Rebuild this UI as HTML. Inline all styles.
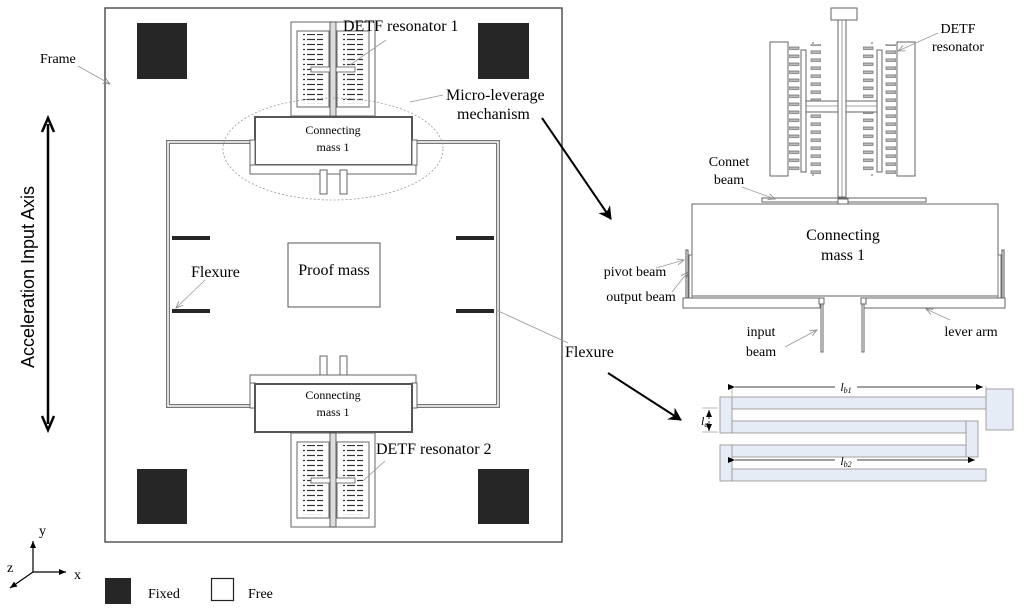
<!DOCTYPE html>
<html><head><meta charset="utf-8"><style>
html,body{margin:0;padding:0;background:#fff;}
svg{display:block;font-family:"Liberation Serif",serif;}
</style></head><body>
<svg width="1024" height="616" viewBox="0 0 1024 616" xmlns="http://www.w3.org/2000/svg">
<defs>
<pattern id="comb" width="8" height="5" patternUnits="userSpaceOnUse">
<rect width="8" height="5" fill="#fff"/><line x1="0" y1="2.5" x2="6" y2="2.5" stroke="#333" stroke-width="1.2"/>
</pattern>
<pattern id="combR" width="8" height="5" patternUnits="userSpaceOnUse">
<rect width="8" height="5" fill="#fff"/><line x1="2" y1="2.5" x2="8" y2="2.5" stroke="#333" stroke-width="1.2"/>
</pattern>
<pattern id="combB" x="0" y="0" width="1" height="0.0615385" patternUnits="objectBoundingBox">
<rect width="13" height="8" fill="#fff"/><rect x="0" y="3" width="10" height="2.5" fill="#bbb" stroke="#555" stroke-width="0.6"/>
</pattern>
<pattern id="combBR" x="0" y="0.03" width="1" height="0.0615385" patternUnits="objectBoundingBox">
<rect width="13" height="8" fill="#fff"/><rect x="3" y="3" width="10" height="2.5" fill="#bbb" stroke="#555" stroke-width="0.6"/>
</pattern>
<g id="detf">
<rect x="0" y="0" width="84" height="94" fill="#fff" stroke="#666" stroke-width="1"/>
<rect x="6" y="9" width="32" height="76" fill="#fff" stroke="#666"/>
<rect x="46" y="9" width="32" height="76" fill="#fff" stroke="#666"/>
<rect x="12" y="12" width="10" height="70" fill="url(#comb)"/>
<rect x="22" y="12" width="10" height="70" fill="url(#combR)"/>
<rect x="52" y="12" width="10" height="70" fill="url(#comb)"/>
<rect x="62" y="12" width="10" height="70" fill="url(#combR)"/>
<rect x="20" y="45" width="44" height="5" fill="#fff" stroke="#555" stroke-width="0.8"/>
<rect x="39" y="0" width="6" height="94" fill="#ddd" stroke="#444" stroke-width="0.8"/>
</g>
<marker id="ah2" markerWidth="14" markerHeight="14" refX="12" refY="7" orient="auto" markerUnits="userSpaceOnUse"><path d="M0,0 L13,7 L0,14 L4,7 z" fill="#000"/></marker>
<marker id="gh" markerWidth="8" markerHeight="8" refX="7" refY="4" orient="auto" markerUnits="userSpaceOnUse"><path d="M0,1 L7,4 L0,7" fill="none" stroke="#888" stroke-width="0.8"/></marker>
<marker id="dh" markerWidth="8" markerHeight="8" refX="7" refY="4" orient="auto" markerUnits="userSpaceOnUse"><path d="M0,1 L7,4 L0,7 z" fill="#000"/></marker>
</defs>

<rect x="105" y="8" width="457" height="534" fill="#fff" stroke="#555" stroke-width="1.5"/>
<rect x="137" y="23" width="50" height="56" fill="#262626"/>
<rect x="478" y="23" width="51" height="56" fill="#262626"/>
<rect x="137" y="469" width="50" height="55" fill="#262626"/>
<rect x="478" y="469" width="51" height="55" fill="#262626"/>

<path d="M255,142 H168 V406 H255 M412,142 H498 V406 H412" fill="none" stroke="#777" stroke-width="4"/>
<path d="M255,142 H168 V406 H255 M412,142 H498 V406 H412" fill="none" stroke="#fff" stroke-width="1.5"/>

<use href="#detf" x="291" y="22"/>
<rect x="255" y="117" width="157" height="48" fill="#fff" stroke="#555" stroke-width="2"/>
<rect x="250" y="165" width="166" height="9" fill="#fff" stroke="#666"/>
<rect x="320" y="170" width="7" height="24" fill="#fff" stroke="#666"/>
<rect x="340" y="170" width="7" height="24" fill="#fff" stroke="#666"/>
<rect x="250" y="140" width="5" height="25" fill="#fff" stroke="#666"/>
<rect x="412" y="140" width="5" height="25" fill="#fff" stroke="#666"/>
<text x="333" y="134" font-size="12" text-anchor="middle">Connecting</text>
<text x="333" y="151" font-size="12" text-anchor="middle">mass 1</text>
<ellipse cx="333" cy="149" rx="110" ry="51" fill="none" stroke="#999" stroke-width="0.8" stroke-dasharray="2,2"/>

<rect x="320" y="356" width="7" height="24" fill="#fff" stroke="#666"/>
<rect x="340" y="356" width="7" height="24" fill="#fff" stroke="#666"/>
<rect x="250" y="375" width="166" height="9" fill="#fff" stroke="#666"/>
<rect x="250" y="383" width="5" height="25" fill="#fff" stroke="#666"/>
<rect x="412" y="383" width="5" height="25" fill="#fff" stroke="#666"/>
<rect x="255" y="384" width="157" height="48" fill="#fff" stroke="#555" stroke-width="2"/>
<text x="333" y="399" font-size="12" text-anchor="middle">Connecting</text>
<text x="333" y="416" font-size="12" text-anchor="middle">mass 1</text>
<use href="#detf" x="291" y="433"/>

<rect x="172" y="236" width="38" height="4" fill="#262626"/>
<rect x="172" y="309" width="38" height="4" fill="#262626"/>
<rect x="456" y="236" width="38" height="4" fill="#262626"/>
<rect x="456" y="309" width="38" height="4" fill="#262626"/>

<rect x="288" y="243" width="92" height="64" fill="#fff" stroke="#555"/>
<text x="334" y="275" font-size="16" text-anchor="middle">Proof mass</text>

<text x="191" y="277" font-size="16">Flexure</text>
<line x1="205" y1="280" x2="176" y2="308" stroke="#999" stroke-width="0.8" marker-end="url(#gh)"/>
<text x="40" y="63" font-size="14">Frame</text>
<line x1="78" y1="66" x2="110" y2="84" stroke="#999" stroke-width="0.8" marker-end="url(#gh)"/>
<text x="343" y="31" font-size="16">DETF resonator 1</text>
<line x1="386" y1="40" x2="350" y2="65" stroke="#999" stroke-width="0.8"/>
<text x="446" y="100" font-size="16">Micro-leverage</text>
<text x="457" y="119" font-size="16">mechanism</text>
<line x1="443" y1="95" x2="410" y2="102" stroke="#999" stroke-width="0.8"/>
<text x="376" y="454" font-size="16">DETF resonator 2</text>
<line x1="385" y1="461" x2="363" y2="481" stroke="#999" stroke-width="0.8"/>
<text x="565" y="357" font-size="16">Flexure</text>
<line x1="568" y1="343" x2="496" y2="310" stroke="#999" stroke-width="0.8"/>

<line x1="48" y1="124" x2="48" y2="424" stroke="#000" stroke-width="2.5"/>
<path d="M42,132 L48,118 L54,132" fill="none" stroke="#000" stroke-width="2.5"/>
<path d="M42,416 L48,430 L54,416" fill="none" stroke="#000" stroke-width="2.5"/>
<text transform="translate(34,277) rotate(-90)" font-family="Liberation Sans, sans-serif" font-size="18" text-anchor="middle">Acceleration Input Axis</text>

<line x1="542" y1="118" x2="611" y2="219" stroke="#000" stroke-width="2" marker-end="url(#ah2)"/>
<line x1="608" y1="373" x2="681" y2="420" stroke="#000" stroke-width="2" marker-end="url(#ah2)"/>

<rect x="831" y="8" width="26" height="12" fill="#fff" stroke="#666"/>
<rect x="770" y="42" width="18" height="134" fill="#fff" stroke="#666"/>
<rect x="897" y="42" width="18" height="134" fill="#fff" stroke="#666"/>
<path d="M813,42 V88 M813,122 V176 M872,42 V88 M872,122 V176" stroke="#666" fill="none"/>
<rect x="789" y="44" width="13" height="130" fill="url(#combB)"/>
<rect x="808" y="44" width="13" height="130" fill="url(#combBR)"/>
<rect x="863" y="44" width="13" height="130" fill="url(#combB)"/>
<rect x="883" y="44" width="13" height="130" fill="url(#combBR)"/>
<rect x="801" y="50" width="5" height="122" fill="#fff" stroke="#666"/>
<rect x="877" y="50" width="5" height="122" fill="#fff" stroke="#666"/>
<rect x="806" y="101" width="71" height="11" fill="#fff" stroke="#666"/>
<line x1="806" y1="106" x2="877" y2="106" stroke="#888" stroke-width="0.8"/>
<rect x="838" y="20" width="8" height="177" fill="#fff" stroke="#666"/>
<line x1="842" y1="20" x2="842" y2="197" stroke="#888" stroke-width="0.8"/>
<rect x="762" y="198" width="164" height="4" fill="#fff" stroke="#666"/>
<rect x="838" y="199" width="10" height="5" fill="#fff" stroke="#666"/>
<text x="958" y="33" font-size="14" text-anchor="middle">DETF</text>
<text x="958" y="51" font-size="14" text-anchor="middle">resonator</text>
<line x1="938" y1="33" x2="898" y2="51" stroke="#999" stroke-width="0.8" marker-end="url(#gh)"/>
<text x="729" y="166" font-size="14" text-anchor="middle">Connet</text>
<text x="729" y="184" font-size="14" text-anchor="middle">beam</text>
<line x1="742" y1="187" x2="775" y2="199" stroke="#999" stroke-width="0.8" marker-end="url(#gh)"/>

<rect x="692" y="204" width="306" height="92" fill="#fff" stroke="#666"/>
<text x="843" y="240" font-size="16" text-anchor="middle">Connecting</text>
<text x="843" y="260" font-size="16" text-anchor="middle">mass 1</text>
<rect x="686" y="250" width="2" height="48" fill="#fff" stroke="#555"/>
<rect x="689" y="255" width="3" height="43" fill="#fff" stroke="#777"/>
<rect x="1002" y="250" width="2" height="48" fill="#fff" stroke="#555"/>
<rect x="998" y="255" width="3" height="43" fill="#fff" stroke="#777"/>
<rect x="683" y="298" width="137" height="10" fill="#fff" stroke="#666"/>
<rect x="862" y="298" width="143" height="10" fill="#fff" stroke="#666"/>
<rect x="819" y="298" width="5" height="6" fill="#fff" stroke="#666"/>
<rect x="861" y="298" width="5" height="6" fill="#fff" stroke="#666"/>
<rect x="821" y="304" width="2" height="48" fill="#fff" stroke="#666"/>
<rect x="862" y="304" width="2" height="48" fill="#fff" stroke="#666"/>
<text x="635" y="276" font-size="14" text-anchor="middle">pivot beam</text>
<line x1="656" y1="268" x2="684" y2="260" stroke="#999" stroke-width="0.8" marker-end="url(#gh)"/>
<text x="641" y="301" font-size="14" text-anchor="middle">output beam</text>
<line x1="672" y1="292" x2="688" y2="272" stroke="#999" stroke-width="0.8" marker-end="url(#gh)"/>
<text x="761" y="336" font-size="14" text-anchor="middle">input</text>
<text x="761" y="356" font-size="14" text-anchor="middle">beam</text>
<line x1="785" y1="347" x2="817" y2="330" stroke="#999" stroke-width="0.8" marker-end="url(#gh)"/>
<text x="971" y="336" font-size="14" text-anchor="middle">lever arm</text>
<line x1="950" y1="320" x2="926" y2="309" stroke="#999" stroke-width="0.8" marker-end="url(#gh)"/>

<g fill="#e6ecf6" stroke="#999" stroke-width="0.9">
<rect x="986" y="389" width="27" height="41"/>
<rect x="732" y="397" width="254" height="12"/>
<rect x="720" y="397" width="12" height="36"/>
<rect x="732" y="421" width="234" height="12"/>
<rect x="966" y="421" width="12" height="36"/>
<rect x="732" y="445" width="234" height="12"/>
<rect x="720" y="445" width="12" height="36"/>
<rect x="732" y="469" width="254" height="12"/>
</g>
<line x1="732" y1="386" x2="732" y2="396" stroke="#999" stroke-width="0.7"/>
<line x1="986" y1="386" x2="986" y2="396" stroke="#999" stroke-width="0.7"/>
<line x1="735" y1="387" x2="835" y2="387" stroke="#000" stroke-width="0.8" marker-start="url(#dh)"/>
<line x1="857" y1="387" x2="983" y2="387" stroke="#000" stroke-width="0.8" marker-end="url(#dh)"/>
<text x="846" y="391" font-size="12" font-style="italic" text-anchor="middle">l<tspan font-size="8" dy="2">b1</tspan></text>
<line x1="735" y1="460" x2="835" y2="460" stroke="#000" stroke-width="0.8" marker-start="url(#dh)"/>
<line x1="857" y1="460" x2="975" y2="460" stroke="#000" stroke-width="0.8" marker-end="url(#dh)"/>
<text x="846" y="465" font-size="12" font-style="italic" text-anchor="middle">l<tspan font-size="8" dy="2">b2</tspan></text>
<line x1="702" y1="408" x2="718" y2="408" stroke="#999" stroke-width="0.7"/>
<line x1="702" y1="432" x2="718" y2="432" stroke="#999" stroke-width="0.7"/>
<line x1="709" y1="419" x2="709" y2="410" stroke="#000" stroke-width="0.8" marker-end="url(#dh)"/>
<line x1="709" y1="421" x2="709" y2="431" stroke="#000" stroke-width="0.8" marker-end="url(#dh)"/>
<text x="701" y="425" font-size="12" font-style="italic">l<tspan font-size="8" dy="2">a</tspan></text>

<line x1="33" y1="572" x2="33" y2="541" stroke="#000" stroke-width="1.2" marker-end="url(#dh)"/>
<line x1="33" y1="572" x2="66" y2="572" stroke="#000" stroke-width="1.2" marker-end="url(#dh)"/>
<line x1="33" y1="572" x2="10" y2="588" stroke="#000" stroke-width="1.2" marker-end="url(#dh)"/>
<text x="39" y="535" font-size="14">y</text>
<text x="74" y="579" font-size="14">x</text>
<text x="7" y="572" font-size="14">z</text>

<rect x="105" y="578" width="26" height="26" fill="#262626"/>
<text x="148" y="598" font-size="14">Fixed</text>
<rect x="211.5" y="578.5" width="22" height="22" fill="#fff" stroke="#222" stroke-width="1.2"/>
<text x="248" y="598" font-size="14">Free</text>
</svg>
</body></html>
